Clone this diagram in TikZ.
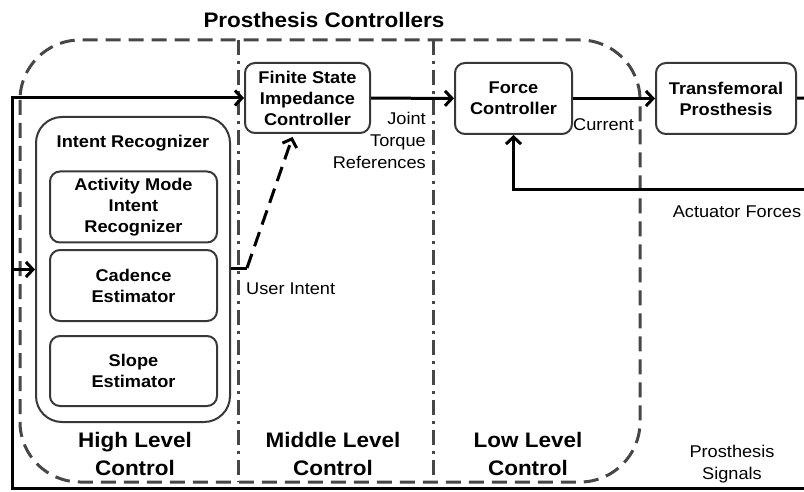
\documentclass[tikz,border=0pt]{standalone}
\usepackage{fontspec}
\setmainfont{Liberation Sans}[FakeStretch=1.07]
\usetikzlibrary{arrows.meta}
\tikzset{
  block/.style={draw=black!78, line width=2pt, rounded corners=10pt, align=center, inner sep=0pt, font=\fontsize{17}{21}\selectfont\bfseries},
  group/.style={draw=black!78, line width=2pt, rounded corners=26pt, inner sep=0pt},
  sig/.style={line width=3pt, black},
  region/.style={draw=black!72, line width=3pt, dash pattern=on 15pt off 8pt},
  divider/.style={draw=black!72, line width=3pt, dash pattern=on 15pt off 6pt on 3pt off 6pt},
  lbl/.style={inner sep=0pt, align=center, font=\fontsize{17}{22}\selectfont},
  levellbl/.style={inner sep=0pt, align=center, font=\fontsize{21}{28}\selectfont\bfseries},
  >={Straight Barb[length=7pt, width=15pt]}
}
\begin{document}
\begin{tikzpicture}[x=1pt, y=-1pt]
  \useasboundingbox (0,0) rectangle (804,492);
  \draw [region, rounded corners=60pt] (20,40) rectangle (640,482);
  \draw [divider] (238,40) -- (238,482);
  \draw [divider] (433,40) -- (433,482);
  \node [levellbl] (ttl) at (324,20) {Prosthesis Controllers};

  \node [block, minimum width=125pt, minimum height=70pt] (fsic) at (307.5,98) {Finite State\\Impedance\\Controller};
  \node [block, minimum width=117pt, minimum height=71pt] (force) at (513.5,98.5) {Force\\Controller};
  \node [block, minimum width=140pt, minimum height=71pt] (tp) at (726,98.5) {Transfemoral\\Prosthesis};

  \node [group, minimum width=194pt, minimum height=305pt] (ir) at (133,269.5) {};
  \node [lbl, font=\fontsize{17}{21}\selectfont\bfseries] (irtitle) at (133,143) {Intent Recognizer};
  \node [block, minimum width=167pt, minimum height=71pt] (am) at (133.5,207) {Activity Mode\\Intent\\Recognizer};
  \node [block, minimum width=167pt, minimum height=71pt] (cad) at (133.5,285.5) {Cadence\\Estimator};
  \node [block, minimum width=167pt, minimum height=70pt] (slope) at (133.5,371) {Slope\\Estimator};

  \coordinate (outR) at (804,98);
  \coordinate (fbR) at (804,190);
  \coordinate (sigR) at (804,488);
  \coordinate (sigL) at (12,488);
  \coordinate (ui) at (247,268);

  \draw [sig, ->] (fsic) -- (force);
  \draw [sig, ->] (force) -- (tp);
  \draw [sig] (tp) -- (outR);
  \draw [sig, ->] (fbR) -| (force.south);
  \draw [sig, ->] (sigR) -- (sigL) |- (fsic.west);
  \draw [sig, ->] (sigL |- ir.west) -- (ir.west);
  \draw [sig] (ir.east |- ui) -- (ui);
  \draw [sig, dash pattern=on 15pt off 8pt, ->] (ui) -- ([xshift=-15pt, yshift=-3pt]fsic.south);

  \node [lbl, align=right, anchor=east] (jtr) at (426,140) {Joint\\Torque\\References};
  \node [lbl, anchor=west] (cur) at (573,125) {Current};
  \node [lbl] (act) at (737,212) {Actuator Forces};
  \node [lbl, anchor=west] (uil) at (246,289) {User Intent};
  \node [lbl] (psig) at (732,464) {Prosthesis\\Signals};

  \node [levellbl] (high) at (135,454) {High Level\\Control};
  \node [levellbl] (mid) at (333,454) {Middle Level\\Control};
  \node [levellbl] (low) at (528,454) {Low Level\\Control};
\end{tikzpicture}
\end{document}
